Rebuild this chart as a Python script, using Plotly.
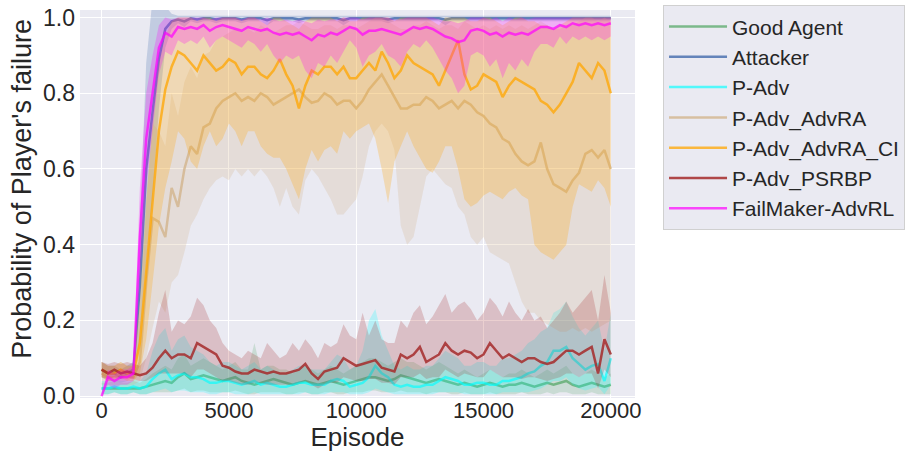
import plotly.graph_objects as go

episodes = list(range(0, 20001, 250))

series_names = ["Good Agent", "Attacker", "P-Adv", "P-Adv_AdvRA",
                "P-Adv_AdvRA_CI", "P-Adv_PSRBP", "FailMaker-AdvRL"]

x_tickvals = [0, 5000, 10000, 15000, 20000]
x_ticktext = ["0", "5000", "10000", "15000", "20000"]
y_tickvals = [0, 0.2, 0.4, 0.6, 0.8, 1.0]
y_ticktext = ["0.0", "0.2", "0.4", "0.6", "0.8", "1.0"]

good_mean = [0.02, 0.02, 0.02, 0.02, 0.02, 0.02, 0.02, 0.025, 0.03, 0.035,
             0.04, 0.035, 0.05, 0.06, 0.045, 0.05, 0.055, 0.05, 0.045, 0.04,
             0.045, 0.05, 0.04, 0.035, 0.03, 0.035, 0.04, 0.045, 0.04, 0.035,
             0.03, 0.035, 0.04, 0.035, 0.03, 0.035, 0.04, 0.035, 0.03, 0.035,
             0.04, 0.045, 0.05, 0.05, 0.045, 0.04, 0.045, 0.055, 0.05, 0.045,
             0.04, 0.035, 0.04, 0.045, 0.04, 0.035, 0.03, 0.035, 0.03, 0.025,
             0.03, 0.035, 0.03, 0.025, 0.03, 0.03, 0.035, 0.03, 0.025, 0.03,
             0.035, 0.03, 0.035, 0.04, 0.03, 0.025, 0.03, 0.035, 0.03, 0.025, 0.03]
good_lo = [0.005, 0.005, 0.01, 0.005, 0.005, 0.01, 0.005, 0.005, 0.01, 0.01,
           0.01, 0.01, 0.015, 0.02, 0.01, 0.015, 0.015, 0.01, 0.01, 0.01,
           0.01, 0.015, 0.01, 0.005, 0.005, 0.01, 0.01, 0.01, 0.01, 0.005,
           0.005, 0.01, 0.01, 0.005, 0.005, 0.01, 0.01, 0.005, 0.005, 0.01,
           0.01, 0.01, 0.015, 0.015, 0.01, 0.01, 0.01, 0.015, 0.01, 0.01,
           0.01, 0.005, 0.01, 0.01, 0.01, 0.005, 0.005, 0.01, 0.005, 0.005,
           0.005, 0.01, 0.005, 0.005, 0.005, 0.005, 0.01, 0.005, 0.005, 0.005,
           0.01, 0.005, 0.01, 0.01, 0.005, 0.005, 0.005, 0.01, 0.005, 0.005, 0.005]
good_hi = [0.035, 0.035, 0.04, 0.035, 0.035, 0.04, 0.035, 0.045, 0.06, 0.07,
           0.08, 0.07, 0.10, 0.11, 0.08, 0.09, 0.10, 0.09, 0.08, 0.07,
           0.08, 0.09, 0.07, 0.07, 0.14, 0.07, 0.08, 0.08, 0.07, 0.07,
           0.06, 0.07, 0.08, 0.07, 0.06, 0.07, 0.08, 0.07, 0.06, 0.07,
           0.08, 0.09, 0.10, 0.10, 0.09, 0.08, 0.09, 0.10, 0.09, 0.09,
           0.08, 0.07, 0.08, 0.09, 0.08, 0.07, 0.06, 0.07, 0.06, 0.05,
           0.06, 0.07, 0.06, 0.05, 0.06, 0.06, 0.07, 0.06, 0.05, 0.06,
           0.07, 0.06, 0.07, 0.08, 0.06, 0.05, 0.06, 0.07, 0.06, 0.05, 0.06]

attacker_mean = [0.07, 0.06, 0.06, 0.05, 0.06, 0.07, 0.29, 0.60, 0.75, 0.89,
                 0.97, 0.99, 0.995, 0.99, 0.998, 0.995, 0.998, 0.998, 0.995, 0.998,
                 0.998, 0.998, 0.995, 0.998, 0.998, 0.998, 0.993, 0.998, 0.998, 0.998,
                 0.998, 0.995, 0.998, 0.998, 0.998, 0.998, 0.998, 0.998, 0.993, 0.998,
                 0.998, 0.998, 0.998, 0.998, 0.998, 0.995, 0.998, 0.998, 0.998, 0.998,
                 0.998, 0.998, 0.998, 0.998, 0.994, 0.998, 0.998, 0.998, 0.998, 0.998,
                 0.998, 0.998, 0.998, 0.998, 0.998, 0.998, 0.998, 0.998, 0.998, 0.998,
                 0.998, 0.998, 0.998, 0.998, 0.998, 0.998, 0.998, 0.998, 0.998, 0.998, 0.998]
attacker_lo = [0.05, 0.04, 0.04, 0.035, 0.04, 0.05, 0.14, 0.36, 0.52, 0.76,
               0.92, 0.97, 0.985, 0.975, 0.99, 0.985, 0.99, 0.99, 0.985, 0.99,
               0.99, 0.99, 0.985, 0.99, 0.99, 0.99, 0.98, 0.99, 0.99, 0.99,
               0.99, 0.985, 0.99, 0.99, 0.99, 0.99, 0.99, 0.99, 0.98, 0.99,
               0.99, 0.99, 0.99, 0.99, 0.99, 0.985, 0.99, 0.99, 0.99, 0.99,
               0.99, 0.99, 0.99, 0.99, 0.98, 0.99, 0.99, 0.99, 0.99, 0.99,
               0.99, 0.99, 0.99, 0.99, 0.99, 0.99, 0.99, 0.99, 0.99, 0.99,
               0.99, 0.99, 0.99, 0.99, 0.99, 0.99, 0.99, 0.99, 0.99, 0.99, 0.99]
attacker_hi = [0.09, 0.08, 0.08, 0.07, 0.08, 0.09, 0.45, 0.88, 1.05, 1.05,
               1.03, 1.01, 1.005, 1.005, 1.005, 1.005, 1.005, 1.005, 1.005, 1.005,
               1.005, 1.005, 1.005, 1.005, 1.005, 1.005, 1.005, 1.005, 1.005, 1.005,
               1.005, 1.005, 1.005, 1.005, 1.005, 1.005, 1.005, 1.005, 1.005, 1.005,
               1.005, 1.005, 1.005, 1.005, 1.005, 1.005, 1.005, 1.005, 1.005, 1.005,
               1.005, 1.005, 1.005, 1.005, 1.005, 1.005, 1.005, 1.005, 1.005, 1.005,
               1.005, 1.005, 1.005, 1.005, 1.005, 1.005, 1.005, 1.005, 1.005, 1.005,
               1.005, 1.005, 1.005, 1.005, 1.005, 1.005, 1.005, 1.005, 1.005, 1.005, 1.005]

padv_mean = [0.02, 0.02, 0.025, 0.02, 0.02, 0.025, 0.02, 0.025, 0.045, 0.06,
             0.07, 0.045, 0.055, 0.06, 0.05, 0.05, 0.045, 0.035, 0.035, 0.04,
             0.04, 0.035, 0.03, 0.035, 0.04, 0.03, 0.035, 0.03, 0.025, 0.025,
             0.03, 0.035, 0.035, 0.03, 0.03, 0.03, 0.04, 0.045, 0.04, 0.025,
             0.03, 0.035, 0.05, 0.08, 0.06, 0.05, 0.03, 0.025, 0.03, 0.025,
             0.025, 0.03, 0.03, 0.04, 0.05, 0.045, 0.04, 0.03, 0.03, 0.035,
             0.035, 0.03, 0.03, 0.04, 0.04, 0.045, 0.05, 0.06, 0.065, 0.08,
             0.09, 0.12, 0.12, 0.13, 0.10, 0.085, 0.07, 0.08, 0.085, 0.04, 0.10]
padv_lo = [0.005, 0.005, 0.01, 0.005, 0.005, 0.01, 0.005, 0.005, 0.01, 0.015,
           0.02, 0.01, 0.015, 0.015, 0.01, 0.01, 0.01, 0.005, 0.005, 0.01,
           0.01, 0.005, 0.005, 0.005, 0.01, 0.005, 0.005, 0.005, 0.005, 0.005,
           0.005, 0.005, 0.01, 0.005, 0.005, 0.005, 0.01, 0.01, 0.01, 0.005,
           0.005, 0.005, 0.01, 0.02, 0.015, 0.01, 0.005, 0.005, 0.005, 0.005,
           0.005, 0.005, 0.005, 0.01, 0.01, 0.01, 0.01, 0.005, 0.005, 0.005,
           0.005, 0.005, 0.005, 0.01, 0.01, 0.01, 0.01, 0.01, 0.015, 0.02,
           0.03, 0.04, 0.04, 0.05, 0.03, 0.02, 0.015, 0.02, 0.025, 0.005, 0.03]
padv_hi = [0.04, 0.04, 0.045, 0.04, 0.04, 0.045, 0.04, 0.06, 0.12, 0.16,
           0.18, 0.12, 0.15, 0.16, 0.13, 0.12, 0.11, 0.09, 0.08, 0.09,
           0.09, 0.08, 0.07, 0.08, 0.09, 0.07, 0.08, 0.07, 0.06, 0.06,
           0.07, 0.08, 0.08, 0.07, 0.07, 0.07, 0.09, 0.11, 0.10, 0.07,
           0.08, 0.12, 0.20, 0.23, 0.16, 0.12, 0.08, 0.07, 0.08, 0.07,
           0.07, 0.08, 0.08, 0.10, 0.12, 0.11, 0.10, 0.08, 0.08, 0.09,
           0.09, 0.08, 0.08, 0.10, 0.10, 0.11, 0.12, 0.14, 0.15, 0.17,
           0.18, 0.22, 0.23, 0.25, 0.21, 0.18, 0.16, 0.18, 0.20, 0.12, 0.22]

advra_mean = [0.06, 0.05, 0.05, 0.06, 0.05, 0.05, 0.09, 0.30, 0.47, 0.46,
              0.42, 0.55, 0.50, 0.60, 0.66, 0.64, 0.71, 0.72, 0.76, 0.78,
              0.79, 0.80, 0.78, 0.79, 0.78, 0.80, 0.79, 0.77, 0.78, 0.79,
              0.80, 0.81, 0.79, 0.775, 0.78, 0.80, 0.79, 0.77, 0.78, 0.78,
              0.76, 0.78, 0.81, 0.83, 0.85, 0.82, 0.79, 0.76, 0.76, 0.77,
              0.77, 0.79, 0.78, 0.76, 0.77, 0.78, 0.76, 0.78, 0.77, 0.75,
              0.74, 0.72, 0.71, 0.68, 0.67, 0.64, 0.62, 0.61, 0.62, 0.67,
              0.60, 0.56, 0.55, 0.54, 0.57, 0.59, 0.64, 0.65, 0.63, 0.65, 0.60]
advra_lo = [0.03, 0.03, 0.03, 0.03, 0.03, 0.03, 0.04, 0.10, 0.18, 0.25,
            0.22, 0.30, 0.32, 0.38, 0.45, 0.48, 0.52, 0.55, 0.57, 0.58,
            0.57, 0.60, 0.58, 0.60, 0.58, 0.60, 0.58, 0.55, 0.50, 0.55,
            0.50, 0.48, 0.57, 0.60, 0.58, 0.55, 0.52, 0.48, 0.48, 0.50,
            0.52, 0.58, 0.66, 0.70, 0.72, 0.70, 0.65, 0.45, 0.40, 0.42,
            0.50, 0.58, 0.60, 0.58, 0.56, 0.55, 0.50, 0.48, 0.42, 0.40,
            0.42, 0.38, 0.37, 0.36, 0.35, 0.30, 0.25, 0.22, 0.22, 0.20,
            0.19, 0.18, 0.17, 0.17, 0.18, 0.17, 0.18, 0.17, 0.18, 0.19, 0.20]
advra_hi = [0.09, 0.08, 0.08, 0.09, 0.08, 0.08, 0.16, 0.50, 0.72, 0.70,
            0.66, 0.80, 0.74, 0.83, 0.87, 0.84, 0.90, 0.91, 0.94, 0.95,
            0.96, 0.97, 0.96, 0.97, 0.96, 0.98, 0.97, 0.96, 0.97, 0.98,
            0.98, 0.99, 0.98, 0.97, 0.97, 0.98, 0.98, 0.97, 0.98, 0.98,
            0.97, 0.98, 0.99, 1.0, 1.0, 0.99, 0.98, 0.97, 0.97, 0.98,
            0.98, 0.99, 0.98, 0.97, 0.98, 0.98, 0.97, 0.99, 0.98, 0.97,
            0.98, 0.97, 0.98, 0.97, 0.98, 0.97, 0.98, 0.97, 0.98, 0.99,
            0.98, 0.97, 0.97, 0.98, 0.98, 0.99, 1.0, 1.0, 0.99, 1.0, 0.99]

advraci_mean = [0.07, 0.06, 0.06, 0.07, 0.06, 0.06, 0.14, 0.33, 0.52, 0.70,
                0.81, 0.87, 0.91, 0.90, 0.88, 0.86, 0.90, 0.88, 0.86, 0.87,
                0.89, 0.88, 0.85, 0.87, 0.87, 0.85, 0.84, 0.86, 0.89, 0.85,
                0.82, 0.76, 0.82, 0.86, 0.85, 0.87, 0.87, 0.85, 0.87, 0.84,
                0.84, 0.86, 0.88, 0.86, 0.91, 0.88, 0.84, 0.86, 0.90, 0.88,
                0.87, 0.86, 0.85, 0.82, 0.86, 0.90, 0.94, 0.85, 0.81, 0.82,
                0.85, 0.84, 0.83, 0.79, 0.82, 0.84, 0.83, 0.82, 0.81, 0.78,
                0.77, 0.75, 0.77, 0.80, 0.83, 0.88, 0.86, 0.84, 0.88, 0.86, 0.80]
advraci_lo = [0.05, 0.04, 0.04, 0.05, 0.04, 0.04, 0.06, 0.15, 0.30, 0.45,
              0.55, 0.62, 0.70, 0.68, 0.62, 0.60, 0.66, 0.70, 0.66, 0.68,
              0.72, 0.70, 0.66, 0.70, 0.70, 0.66, 0.64, 0.63, 0.63, 0.60,
              0.56, 0.52, 0.60, 0.65, 0.62, 0.65, 0.66, 0.64, 0.70, 0.68,
              0.70, 0.71, 0.72, 0.68, 0.60, 0.51, 0.62, 0.66, 0.70, 0.66,
              0.63, 0.60, 0.59, 0.62, 0.66, 0.66, 0.60, 0.52, 0.50, 0.51,
              0.53, 0.54, 0.53, 0.52, 0.54, 0.55, 0.53, 0.52, 0.40, 0.38,
              0.37, 0.36, 0.38, 0.40, 0.50, 0.56, 0.55, 0.54, 0.57, 0.55, 0.50]
advraci_hi = [0.09, 0.08, 0.08, 0.09, 0.08, 0.08, 0.25, 0.52, 0.72, 0.88,
              0.95, 0.99, 1.0, 1.0, 1.0, 0.99, 1.0, 1.0, 0.99, 1.0,
              1.0, 1.0, 0.99, 1.0, 1.0, 0.99, 0.98, 1.0, 1.0, 0.99,
              0.98, 0.97, 0.99, 1.0, 1.0, 1.0, 1.0, 0.99, 1.0, 0.99,
              0.99, 1.0, 1.0, 1.0, 1.0, 1.0, 0.99, 1.0, 1.0, 1.0,
              1.0, 1.0, 0.99, 0.98, 1.0, 1.0, 1.0, 1.0, 0.99, 0.99,
              1.0, 1.0, 0.99, 0.98, 0.99, 1.0, 1.0, 0.99, 0.99, 0.98,
              0.98, 0.97, 0.98, 0.99, 1.0, 1.0, 1.0, 1.0, 1.0, 1.0, 1.0]

psrbp_mean = [0.07, 0.06, 0.07, 0.06, 0.065, 0.06, 0.055, 0.06, 0.075, 0.10,
              0.12, 0.10, 0.11, 0.11, 0.10, 0.14, 0.13, 0.12, 0.11, 0.08,
              0.075, 0.065, 0.06, 0.06, 0.07, 0.065, 0.06, 0.065, 0.06, 0.06,
              0.065, 0.07, 0.085, 0.06, 0.045, 0.065, 0.07, 0.075, 0.10, 0.09,
              0.08, 0.085, 0.09, 0.095, 0.075, 0.07, 0.065, 0.11, 0.10, 0.11,
              0.13, 0.09, 0.10, 0.11, 0.14, 0.12, 0.11, 0.12, 0.115, 0.10,
              0.11, 0.14, 0.12, 0.10, 0.11, 0.10, 0.09, 0.10, 0.10, 0.09,
              0.085, 0.09, 0.105, 0.12, 0.12, 0.11, 0.12, 0.13, 0.06, 0.15, 0.11]
psrbp_lo = [0.05, 0.045, 0.05, 0.045, 0.05, 0.045, 0.04, 0.04, 0.05, 0.06,
            0.06, 0.06, 0.06, 0.06, 0.05, 0.07, 0.07, 0.06, 0.05, 0.04,
            0.04, 0.035, 0.03, 0.03, 0.035, 0.035, 0.03, 0.03, 0.03, 0.03,
            0.03, 0.035, 0.04, 0.03, 0.02, 0.03, 0.035, 0.035, 0.05, 0.045,
            0.04, 0.04, 0.045, 0.045, 0.035, 0.035, 0.03, 0.05, 0.05, 0.05,
            0.06, 0.045, 0.05, 0.05, 0.07, 0.06, 0.05, 0.06, 0.055, 0.05,
            0.05, 0.07, 0.06, 0.05, 0.05, 0.05, 0.045, 0.05, 0.05, 0.045,
            0.04, 0.045, 0.05, 0.06, 0.06, 0.05, 0.06, 0.06, 0.02, 0.07, 0.05]
psrbp_hi = [0.09, 0.085, 0.09, 0.085, 0.09, 0.085, 0.08, 0.10, 0.14, 0.22,
            0.28, 0.17, 0.20, 0.19, 0.21, 0.26, 0.24, 0.20, 0.18, 0.14,
            0.12, 0.11, 0.10, 0.12, 0.11, 0.10, 0.14, 0.12, 0.10, 0.11,
            0.14, 0.12, 0.15, 0.13, 0.10, 0.14, 0.13, 0.14, 0.19, 0.16,
            0.15, 0.22, 0.16, 0.20, 0.15, 0.14, 0.14, 0.20, 0.18, 0.22,
            0.24, 0.19, 0.21, 0.24, 0.27, 0.22, 0.24, 0.25, 0.23, 0.20,
            0.22, 0.26, 0.24, 0.21, 0.25, 0.22, 0.20, 0.23, 0.20, 0.21,
            0.18, 0.20, 0.22, 0.25, 0.22, 0.24, 0.26, 0.28, 0.20, 0.32, 0.22]

failmaker_mean = [0.0, 0.05, 0.04, 0.05, 0.05, 0.06, 0.42, 0.68, 0.80, 0.92,
                  0.96, 0.95, 0.975, 0.97, 0.975, 0.97, 0.98, 0.965, 0.975, 0.98,
                  0.975, 0.97, 0.965, 0.975, 0.97, 0.965, 0.97, 0.96, 0.955, 0.96,
                  0.955, 0.96, 0.95, 0.94, 0.955, 0.95, 0.96, 0.955, 0.965, 0.975,
                  0.97, 0.955, 0.965, 0.965, 0.97, 0.965, 0.96, 0.955, 0.965, 0.975,
                  0.97, 0.975, 0.97, 0.96, 0.95, 0.945, 0.935, 0.94, 0.965, 0.97,
                  0.965, 0.955, 0.96, 0.95, 0.96, 0.955, 0.96, 0.955, 0.965, 0.975,
                  0.975, 0.97, 0.98, 0.975, 0.985, 0.98, 0.985, 0.98, 0.985, 0.98, 0.985]
failmaker_lo = [0.0, 0.03, 0.02, 0.03, 0.03, 0.04, 0.30, 0.55, 0.70, 0.85,
                0.91, 0.90, 0.94, 0.93, 0.94, 0.93, 0.95, 0.92, 0.94, 0.95,
                0.94, 0.93, 0.92, 0.94, 0.93, 0.91, 0.93, 0.90, 0.88, 0.90,
                0.89, 0.90, 0.86, 0.84, 0.88, 0.87, 0.90, 0.88, 0.91, 0.94,
                0.92, 0.87, 0.90, 0.91, 0.93, 0.90, 0.89, 0.87, 0.91, 0.93,
                0.92, 0.94, 0.92, 0.89, 0.86, 0.84, 0.80, 0.82, 0.90, 0.91,
                0.90, 0.87, 0.89, 0.84, 0.88, 0.86, 0.89, 0.87, 0.91, 0.93,
                0.93, 0.92, 0.95, 0.93, 0.95, 0.94, 0.95, 0.94, 0.95, 0.94, 0.95]
failmaker_hi = [0.0, 0.07, 0.06, 0.07, 0.07, 0.08, 0.55, 0.80, 0.90, 0.98,
                1.0, 0.995, 1.0, 1.0, 1.0, 1.0, 1.0, 0.995, 1.0, 1.0,
                1.0, 1.0, 0.995, 1.0, 1.0, 0.995, 1.0, 0.995, 0.99, 0.995,
                0.99, 0.995, 0.99, 0.985, 0.995, 0.99, 0.995, 0.995, 1.0, 1.0,
                1.0, 0.995, 1.0, 1.0, 1.0, 1.0, 0.995, 0.995, 1.0, 1.0,
                1.0, 1.0, 1.0, 0.995, 0.99, 0.99, 0.985, 0.99, 1.0, 1.0,
                1.0, 0.995, 1.0, 0.99, 1.0, 0.995, 1.0, 0.995, 1.0, 1.0,
                1.0, 1.0, 1.0, 1.0, 1.0, 1.0, 1.0, 1.0, 1.0, 1.0, 1.0]

colors_rgb = [(85, 168, 104), (76, 114, 176), (0, 255, 255), (210, 180, 140),
              (255, 165, 0), (165, 42, 42), (255, 0, 255)]
line_alpha = [0.75, 0.85, 0.65, 0.8, 0.75, 0.85, 0.7]
band_alpha = [0.22, 0.25, 0.22, 0.25, 0.25, 0.22, 0.25]

data = [
    (good_mean, good_lo, good_hi),
    (attacker_mean, attacker_lo, attacker_hi),
    (padv_mean, padv_lo, padv_hi),
    (advra_mean, advra_lo, advra_hi),
    (advraci_mean, advraci_lo, advraci_hi),
    (psrbp_mean, psrbp_lo, psrbp_hi),
    (failmaker_mean, failmaker_lo, failmaker_hi),
]

fig = go.Figure()
for name, (m, lo, hi), rgb, la, ba in zip(series_names, data, colors_rgb, line_alpha, band_alpha):
    r, g, b = rgb
    fig.add_trace(go.Scatter(x=episodes, y=lo, mode="lines", line=dict(width=0),
                             showlegend=False, hoverinfo="skip", legendgroup=name))
    fig.add_trace(go.Scatter(x=episodes, y=hi, mode="lines", line=dict(width=0),
                             fill="tonexty", fillcolor=f"rgba({r},{g},{b},{ba})",
                             showlegend=False, hoverinfo="skip", legendgroup=name))
    fig.add_trace(go.Scatter(x=episodes, y=m, mode="lines", name=name, legendgroup=name,
                             line=dict(color=f"rgba({r},{g},{b},{la})", width=2.5)))

font_family = "Liberation Sans, Arial, sans-serif"
fig.update_layout(
    width=905, height=452,
    margin=dict(l=80, r=270, t=10, b=54, autoexpand=False),
    paper_bgcolor="white",
    plot_bgcolor="#EAEAF2",
    font=dict(family=font_family, color="#262626", size=22),
    xaxis=dict(range=[-850, 20950], tickvals=x_tickvals, ticktext=x_ticktext,
               showgrid=True, gridcolor="white", gridwidth=1, zeroline=False,
               showline=False, ticks="", tickfont=dict(size=22), automargin=False,
               ticklabelstandoff=-3,
               title=dict(text="Episode", font=dict(size=26), standoff=2)),
    yaxis=dict(range=[-0.005, 1.02], tickvals=y_tickvals, ticktext=y_ticktext,
               showgrid=True, gridcolor="white", gridwidth=1, zeroline=False,
               showline=False, ticks="", tickfont=dict(size=23), automargin=False,
               ticklabelstandoff=4),
    legend=dict(x=1.0505, y=1.012, xanchor="left", yanchor="top",
                bgcolor="#EAEAF2", bordercolor="#D0D0D0", borderwidth=1,
                font=dict(size=21, color="#262626"), itemwidth=58,
                tracegroupgap=0),
    showlegend=True,
    annotations=[dict(text="Probability of Player's failure", textangle=-90,
                      xref="paper", yref="paper", x=-0.1045, y=0.539,
                      xanchor="center", yanchor="middle", showarrow=False,
                      font=dict(size=27, color="#262626"))],
)

fig.write_html("out.html", config={"displayModeBar": False},
               post_script="document.body.style.margin='0px';")
